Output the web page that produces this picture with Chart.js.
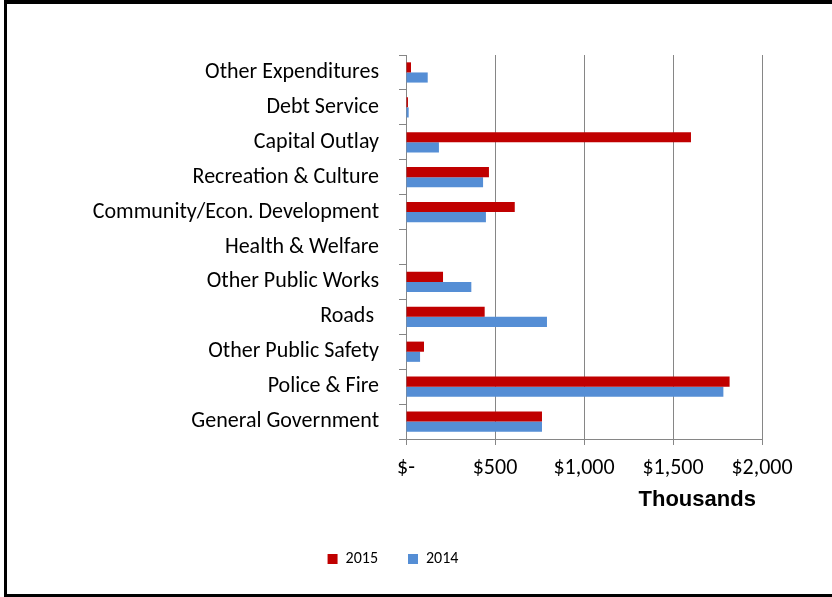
<!DOCTYPE html>
<html>
<head>
<meta charset="utf-8">
<script src="https://cdn.jsdelivr.net/npm/chart.js@4"></script>
<style>
  html, body { margin: 0; padding: 0; background: #fff; overflow: hidden; }
  #frame { position: absolute; left: 4px; top: 0; width: 900px; height: 590px;
           border-top: 4px solid #000; border-left: 3px solid #000; border-bottom: 3px solid #000; }
  #wrap { position: absolute; left: 0; top: 0; width: 832px; height: 597px; }
</style>
</head>
<body>
<div id="frame"></div>
<div id="wrap"><canvas id="spendChart"></canvas></div>
<script>
const categories = ['Other Expenditures', 'Debt Service', 'Capital Outlay', 'Recreation & Culture',
    'Community/Econ. Development', 'Health & Welfare', 'Other Public Works', 'Roads ',
    'Other Public Safety', 'Police & Fire', 'General Government'];
const values2015 = [28, 11, 1601, 466, 611, 0, 208, 442, 101, 1818, 764];
const values2014 = [122, 15, 185, 433, 449, 0, 367, 792, 79, 1783, 764];
const xTicks = [0, 500, 1000, 1500, 2000];

const labelFont = "Carlito, 'Open Sans', sans-serif";
const gridGray = '#868686';

const ctx = document.getElementById('spendChart').getContext('2d');
const chart = new Chart(ctx, {
    type: 'bar',
    data: {
        labels: categories,
        datasets: [{
            label: '2015',
            data: values2015,
            backgroundColor: '#C00000',
            borderWidth: 0,
            categoryPercentage: 0.58,
            barPercentage: 1
        }, {
            label: '2014',
            data: values2014,
            backgroundColor: '#558ED5',
            borderWidth: 0,
            categoryPercentage: 0.58,
            barPercentage: 1
        }]
    },
    options: {
        indexAxis: 'y',
        responsive: true,
        maintainAspectRatio: false,
        animation: false,
        layout: { padding: { top: 55, right: 70, left: 24, bottom: 20 } },
        scales: {
            x: {
                min: 0,
                max: 2000,
                afterBuildTicks: (scale) => { scale.ticks = xTicks.map(v => ({ value: v })); },
                afterFit: (scale) => { scale.height = 82; },
                ticks: {
                    color: '#000',
                    font: { family: labelFont, size: 22 },
                    padding: 10,
                    maxRotation: 0,
                    callback: (v) => v === 0 ? '$-' : '$' + v.toLocaleString('en-US')
                },
                grid: { color: gridGray, tickLength: 6, lineWidth: 1 },
                border: { color: gridGray },
                title: {
                    display: true,
                    text: 'Thousands ',
                    align: 'end',
                    color: '#000',
                    font: { family: "'Liberation Sans', Arial, sans-serif", size: 22, weight: 'bold' },
                    padding: { top: 6, bottom: 8 }
                }
            },
            y: {
                afterFit: (scale) => { scale.width = 382; },
                ticks: {
                    color: '#000',
                    font: { family: labelFont, size: 22 },
                    padding: 20
                },
                grid: { drawOnChartArea: false, color: gridGray, tickLength: 7 },
                border: { color: gridGray }
            }
        },
        plugins: {
            legend: {
                position: 'bottom',
                labels: {
                    boxWidth: 10,
                    boxHeight: 10,
                    padding: 30,
                    color: '#000',
                    font: { family: labelFont, size: 16 }
                }
            },
            tooltip: { enabled: false }
        }
    }
});
</script>
</body>
</html>
